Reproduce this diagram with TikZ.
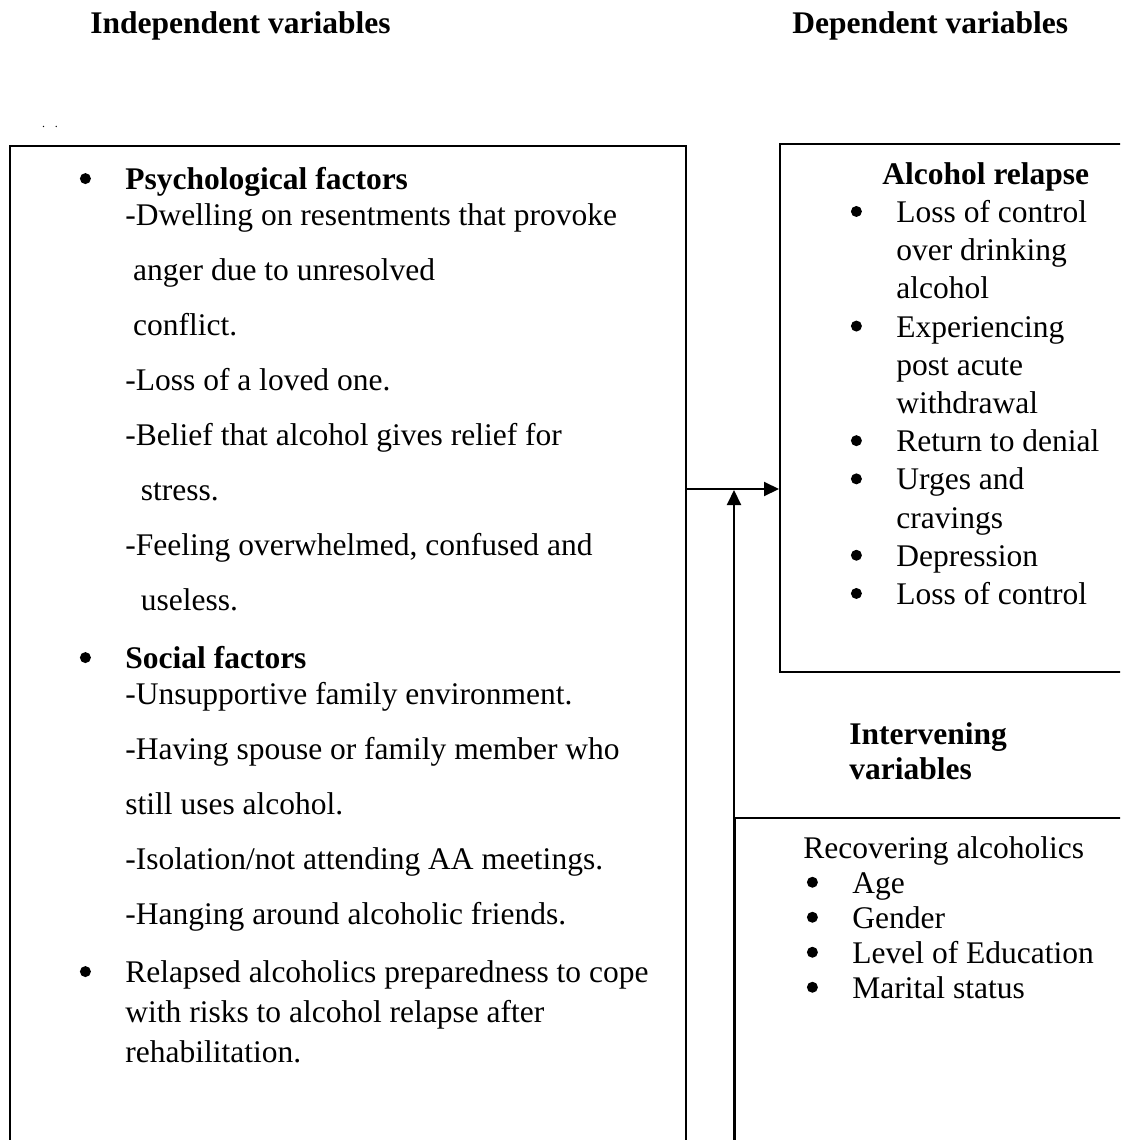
\documentclass[tikz,border=0pt]{standalone}
\usepackage{fontspec}
\setmainfont{Liberation Serif}
\usetikzlibrary{arrows.meta}
\newcommand{\itembul}{\llap{\tikz[baseline=0pt]\fill (0pt,5.5pt) circle[radius=2.75pt];\hspace{17.25pt}}}

\begin{document}
\begin{tikzpicture}[x=0.5pt, y=-0.5pt,
    caja/.style={draw, line width=1pt, inner sep=0pt, anchor=north west},
    texto/.style={inner sep=0pt, anchor=north west, align=left},
    titulo/.style={inner sep=0pt, anchor=base west, font=\fontsize{15.75}{16}\selectfont\bfseries},
    flecha/.style={line width=1pt, -{Triangle[length=7.5pt,width=7pt]}}
  ]
	\useasboundingbox (0,0) rectangle (1120,1140);
	\clip (0,0) rectangle (1120,1140);

	%Titulos
	\node[titulo] (indeptitle) at (90,33) {Independent variables};
	\node[titulo] (deptitle) at (792,33) {Dependent variables};
	\node[inner sep=0pt, font=\fontsize{6}{6}\selectfont] (puntos) at (50,127) {.\hspace{5pt}.};

	%Cajas
	\node[caja, minimum width=338pt, minimum height=510pt] (indepbox) at (9,145) {};
	\node[caja, minimum width=180pt, minimum height=264pt] (depbox) at (779,143) {};
	\node[caja, minimum width=200pt, minimum height=170pt] (intbox) at (734,817) {};

	%Texto variables independientes
	\node[texto, font=\fontsize{15.75}{27.5}\selectfont] (indeptext) at (125,167) {%
		\itembul\textbf{Psychological factors}\\[-9.5pt]
		-Dwelling on resentments that provoke\\
		\hspace*{3.9pt}anger due to unresolved\\
		\hspace*{3.9pt}conflict.\\
		-Loss of a loved one.\\
		-Belief that alcohol gives relief for\\
		\hspace*{7.75pt}stress.\\
		-Feeling overwhelmed, confused and\\
		\hspace*{7.75pt}useless.\\[1.5pt]
		\itembul\textbf{Social factors}\\[-9.5pt]
		-Unsupportive family environment.\\
		-Having spouse or family member who\\
		still uses alcohol.\\
		-Isolation/not attending AA meetings.\\
		-Hanging around alcoholic friends.\\[1.5pt]
		\itembul Relapsed alcoholics preparedness to cope\\[-7.5pt]
		with risks to alcohol relapse after\\[-7.5pt]
		rehabilitation.};

	%Texto variable dependiente
	\node[texto, font=\fontsize{15.75}{19.1}\selectfont] (deptext) at (882,162) {%
		\textbf{Alcohol relapse}\\
		\hspace*{7pt}\itembul Loss of control\\
		\hspace*{7pt}over drinking\\
		\hspace*{7pt}alcohol\\
		\hspace*{7pt}\itembul Experiencing\\
		\hspace*{7pt}post acute\\
		\hspace*{7pt}withdrawal\\
		\hspace*{7pt}\itembul Return to denial\\
		\hspace*{7pt}\itembul Urges and\\
		\hspace*{7pt}cravings\\
		\hspace*{7pt}\itembul Depression\\
		\hspace*{7pt}\itembul Loss of control};

	%Variables intervinientes
	\node[texto, font=\fontsize{15.75}{17.5}\selectfont\bfseries] (inttitle) at (849,722) {Intervening\\variables};
	\node[texto, font=\fontsize{15.75}{17.5}\selectfont] (inttext) at (803,836) {%
		Recovering alcoholics\\
		\hspace*{24.5pt}\itembul Age\\
		\hspace*{24.5pt}\itembul Gender\\
		\hspace*{24.5pt}\itembul Level of Education\\
		\hspace*{24.5pt}\itembul Marital status};

	%Flechas
	\coordinate (cruce) at (734,490);
	\draw[flecha] (indepbox.north east |- 0,489) -- (depbox.north west |- 0,489);
	\draw[flecha] (intbox.south west) -- (cruce);
\end{tikzpicture}
\end{document}
